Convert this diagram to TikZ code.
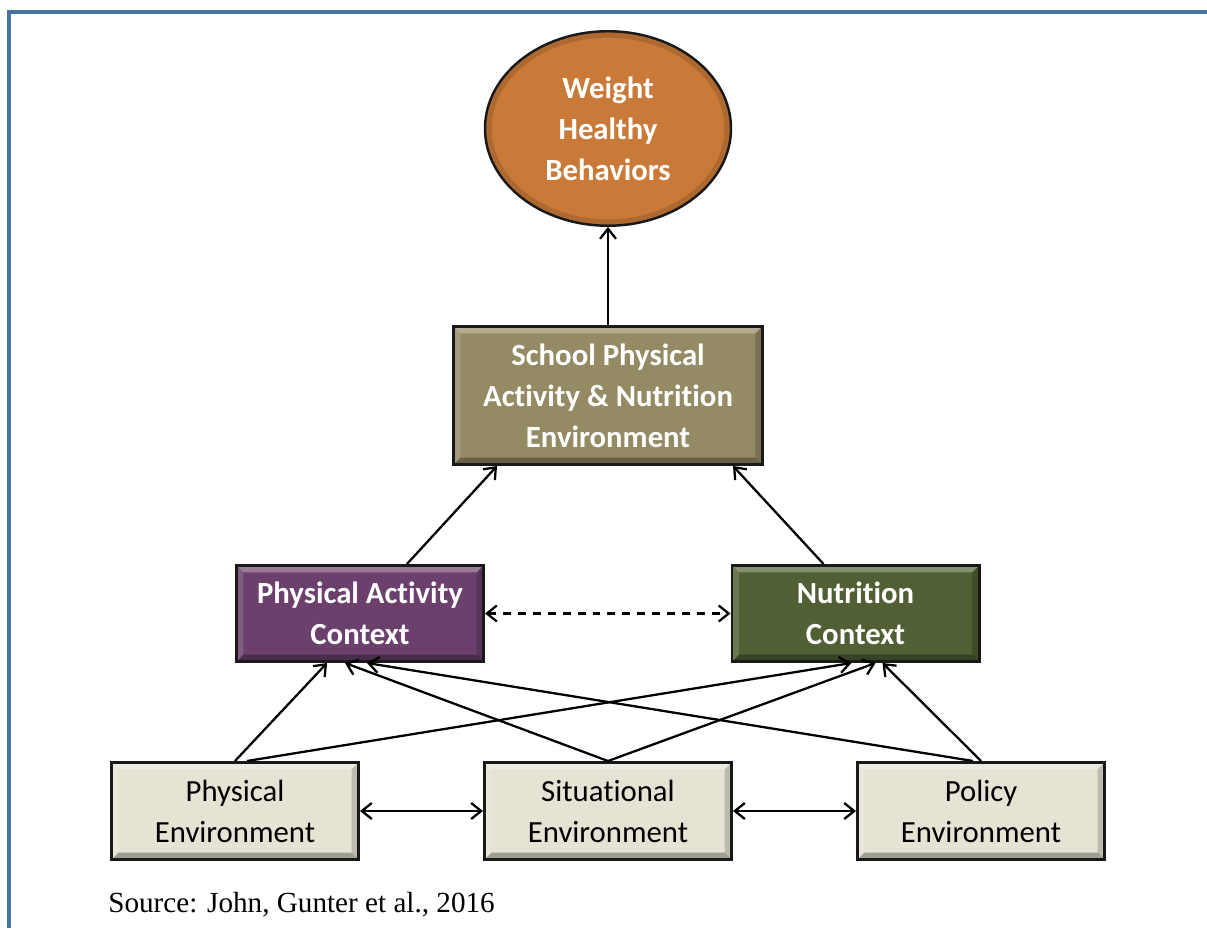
\documentclass[tikz,border=0pt]{standalone}
\usepackage{fontspec}
\setmainfont{Liberation Serif}
\newfontfamily\boxfont[Ligatures=NoCommon]{Carlito}
\usetikzlibrary{positioning, arrows.meta, shapes.geometric}

\definecolor{frameblue}{RGB}{70,116,160}
\definecolor{orangefill}{RGB}{202,122,56}
\definecolor{olivefill}{RGB}{148,138,100}
\definecolor{plumfill}{RGB}{107,64,108}
\definecolor{mossfill}{RGB}{80,96,52}
\definecolor{sandfill}{RGB}{230,226,212}

\begin{document}
\begin{tikzpicture}[
  node distance=1.96cm,
  bevel/.style={path picture={
    \fill[white, opacity=0.3] (path picture bounding box.north west) -- (path picture bounding box.north east)
      -- ([xshift=-4pt,yshift=-4pt]path picture bounding box.north east) -- ([xshift=4pt,yshift=-4pt]path picture bounding box.north west) -- cycle;
    \fill[white, opacity=0.15] (path picture bounding box.north west) -- ([xshift=4pt,yshift=-4pt]path picture bounding box.north west)
      -- ([xshift=4pt,yshift=4pt]path picture bounding box.south west) -- (path picture bounding box.south west) -- cycle;
    \fill[black, opacity=0.3] (path picture bounding box.south west) -- (path picture bounding box.south east)
      -- ([xshift=-4pt,yshift=4pt]path picture bounding box.south east) -- ([xshift=4pt,yshift=4pt]path picture bounding box.south west) -- cycle;
    \fill[black, opacity=0.18] (path picture bounding box.north east) -- ([xshift=-4pt,yshift=-4pt]path picture bounding box.north east)
      -- ([xshift=-4pt,yshift=4pt]path picture bounding box.south east) -- (path picture bounding box.south east) -- cycle;
  }},
  rim/.style={path picture={
    \draw[orangefill!70!black, line width=7pt, opacity=0.45] (path picture bounding box.center) ellipse (2.45cm and 1.94cm);
  }},
  box/.style={rectangle, draw=black!90, line width=1.6pt, align=center, inner sep=2pt, bevel},
  envbox/.style={box, fill=sandfill, minimum width=4.944cm, minimum height=1.944cm,
    font=\boxfont\fontsize{17.5}{23.3}\selectfont},
  ctxbox/.style={box, text=white, minimum width=4.944cm, minimum height=1.924cm,
    font=\boxfont\bfseries\fontsize{17.5}{23.3}\selectfont},
  arr/.style={-{Straight Barb[length=2mm, width=3.2mm]}, line width=1.3pt},
  biarr/.style={{Straight Barb[length=2mm, width=3.2mm]}-{Straight Barb[length=2mm, width=3.2mm]}, line width=1.3pt},
]
  \useasboundingbox (0,0) rectangle (24.14,-18.56);
  \draw[frameblue, line width=2.2pt] (0.18,-18.56) -- (0.18,-0.24) -- (24.14,-0.24);

  % bottom row
  \node[envbox] (se) at (12.16,-16.22) {Situational\\Environment};
  \node[envbox] (pe) [left=2.46cm of se] {Physical\\Environment};
  \node[envbox] (poe) [right=2.46cm of se] {Policy\\Environment};

  % contexts
  \node[ctxbox, fill=plumfill] (pa) [above=of se, xshift=-4.96cm] {Physical Activity\\Context};
  \node[ctxbox, fill=mossfill] (nc) [above=of se, xshift=4.95cm] {Nutrition\\Context};

  % school and outcome
  \node[ctxbox, fill=olivefill, minimum width=6.18cm, minimum height=2.764cm, above=1.96cm] (sch) at (se |- pa.north)
    {School Physical\\Activity \& Nutrition\\Environment};
  \node[ellipse, draw=black!90, line width=1.4pt, minimum width=4.92cm, minimum height=3.89cm, inner sep=0pt,
    fill=orangefill, rim, text=white, align=center,
    font=\boxfont\bfseries\fontsize{17.5}{23.3}\selectfont] (wt) [above=of sch] {Weight\\Healthy\\Behaviors};

  \draw[arr] (sch) -- (wt);
  \draw[arr] ([xshift=0.94cm]pa.north) -- ([xshift=-2.22cm]sch.south);
  \draw[arr] ([xshift=-0.64cm]nc.north) -- ([xshift=2.5cm]sch.south);
  \draw[biarr, dashed, dash pattern=on 4.5pt off 4pt] (pa) -- (nc);

  \draw[arr] (pe.north) -- ([xshift=-0.66cm]pa.south);
  \draw[arr] ([xshift=0.24cm]pe.north) -- ([xshift=-0.08cm]nc.south);
  \draw[arr] (se.north) -- ([xshift=-0.3cm]pa.south);
  \draw[arr] (se.north) -- ([xshift=0.4cm]nc.south);
  \draw[arr] ([xshift=-0.16cm]poe.north) -- ([xshift=0.14cm]pa.south);
  \draw[arr] (poe.north) -- ([xshift=0.54cm]nc.south);

  \draw[biarr] (pe) -- (se);
  \draw[biarr] (se) -- (poe);

  \node[anchor=base west, inner sep=0pt, font=\fontsize{16.6}{20}\selectfont] (src) at (2.16,-18.24) {Source: John, Gunter et al., 2016};
\end{tikzpicture}
\end{document}
